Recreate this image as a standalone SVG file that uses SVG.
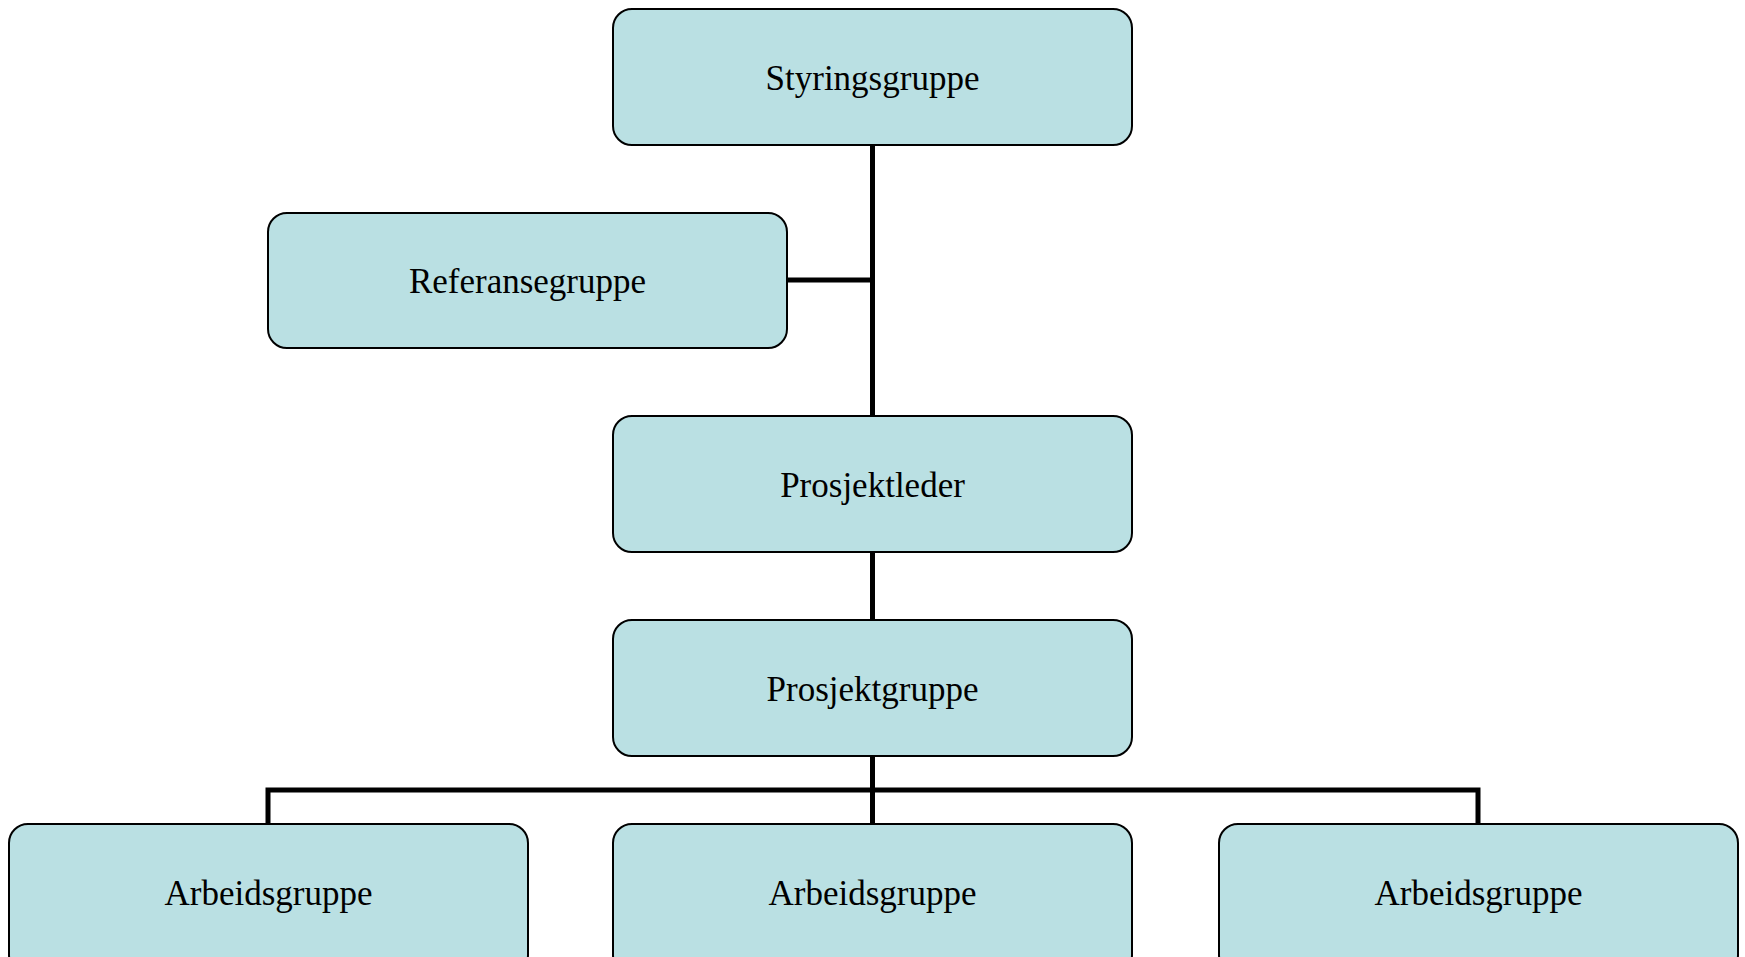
<svg xmlns="http://www.w3.org/2000/svg" width="1745" height="957" viewBox="0 0 1745 957">
<style>
.box{fill:#BAE0E3;stroke:#000;stroke-width:2}
.lbl{font-family:"Liberation Serif","Times New Roman",serif;font-size:35px;fill:#000;text-anchor:middle}
.con{fill:none;stroke:#000;stroke-width:5}
</style>
<rect width="1745" height="957" fill="#fff"/>
<g id="connectors">
<path class="con" d="M872.5 145 V416"/>
<path class="con" d="M787 280 H872.5"/>
<path class="con" d="M872.5 552 V620"/>
<path class="con" d="M872.5 756 V824"/>
<path class="con" d="M268 824 V790 H1478 V824"/>
</g>
<g id="styringsgruppe"><rect class="box" x="613" y="9" width="519" height="136" rx="19"/><text class="lbl" x="872.5" y="90">Styringsgruppe</text></g>
<g id="referansegruppe"><rect class="box" x="268" y="213" width="519" height="135" rx="19"/><text class="lbl" x="527.5" y="293">Referansegruppe</text></g>
<g id="prosjektleder"><rect class="box" x="613" y="416" width="519" height="136" rx="19"/><text class="lbl" x="872.5" y="497">Prosjektleder</text></g>
<g id="prosjektgruppe"><rect class="box" x="613" y="620" width="519" height="136" rx="19"/><text class="lbl" x="872.5" y="701">Prosjektgruppe</text></g>
<g id="arbeidsgruppe1"><rect class="box" x="9" y="824" width="519" height="150" rx="19"/><text class="lbl" x="268.5" y="905">Arbeidsgruppe</text></g>
<g id="arbeidsgruppe2"><rect class="box" x="613" y="824" width="519" height="150" rx="19"/><text class="lbl" x="872.5" y="905">Arbeidsgruppe</text></g>
<g id="arbeidsgruppe3"><rect class="box" x="1219" y="824" width="519" height="150" rx="19"/><text class="lbl" x="1478.5" y="905">Arbeidsgruppe</text></g>
</svg>
